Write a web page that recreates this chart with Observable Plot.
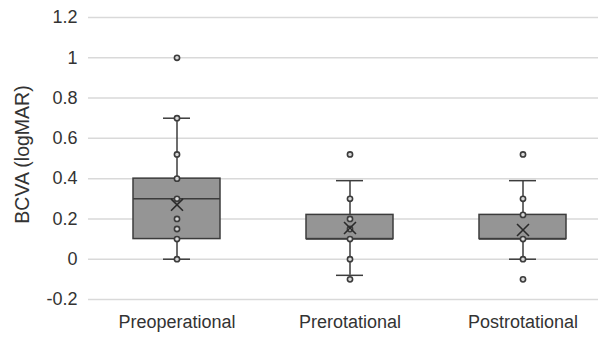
<!DOCTYPE html>
<html>
<head>
<meta charset="utf-8">
<script src="https://cdn.jsdelivr.net/npm/d3@7"></script>
<script src="https://cdn.jsdelivr.net/npm/@observablehq/plot@0.6"></script>
<style>
  html, body { margin: 0; padding: 0; background: #fff; }
  #chart { width: 609px; height: 337px; }
</style>
</head>
<body>
<div id="chart"></div>
<script>
const categories = ["Preoperational", "Prerotational", "Postrotational"];
const q1 = [0.1, 0.1, 0.1];
const median = [0.3, 0.1, 0.1];
const q3 = [0.4, 0.22, 0.22];
const whiskerLow = [0, -0.08, 0];
const whiskerHigh = [0.7, 0.39, 0.39];
const mean = [0.27, 0.155, 0.145];
const preoperationalPoints = [1.0, 0.7, 0.52, 0.4, 0.3, 0.2, 0.15, 0.1, 0];
const prerotationalPoints = [0.52, 0.3, 0.2, 0.15, 0.1, 0, -0.1];
const postrotationalPoints = [0.52, 0.3, 0.22, 0.1, 0, -0.1];
const yTicks = [-0.2, 0, 0.2, 0.4, 0.6, 0.8, 1.0, 1.2];

const stats = categories.map((c, i) => ({
  cat: c, q1: q1[i], median: median[i], q3: q3[i],
  lo: whiskerLow[i], hi: whiskerHigh[i], mean: mean[i]
}));
const pointSets = [preoperationalPoints, prerotationalPoints, postrotationalPoints];
const points = pointSets.flatMap((arr, i) => arr.map(v => ({cat: categories[i], v})));

const dark = "#3c3c3c";
const chart = Plot.plot({
  width: 609,
  height: 337,
  marginTop: 17,
  marginBottom: 38,
  marginLeft: 88,
  marginRight: 11,
  style: {fontFamily: "Liberation Sans, Arial, sans-serif", fontSize: "18px", color: "#333", background: "#fff"},
  x: {domain: categories, range: [89, 609], paddingInner: 0.5, paddingOuter: 0.25, align: 0.5, label: null},
  y: {domain: [-0.2, 1.2], label: null},
  marks: [
    Plot.ruleY(yTicks, {stroke: "#d9d9d9", strokeWidth: 1.5}),
    Plot.axisY({ticks: yTicks, tickSize: 0, tickPadding: 11, tickFormat: d => `${+d.toFixed(1)}`, fontSize: 18, fill: "#333", label: null}),
    Plot.axisX({tickSize: 0, tickPadding: 16, fontSize: 18, fill: "#333", label: null}),
    Plot.text(["BCVA (logMAR)"], {frameAnchor: "left", textAnchor: "middle", dx: -66, dy: -4, rotate: -90, fontSize: 19.5, fill: "#333"}),
    Plot.ruleX(stats, {x: "cat", y1: "lo", y2: "hi", stroke: dark, strokeWidth: 1.5}),
    Plot.tickY(stats, {x: "cat", y: "lo", stroke: dark, strokeWidth: 1.5, insetLeft: 30, insetRight: 30}),
    Plot.tickY(stats, {x: "cat", y: "hi", stroke: dark, strokeWidth: 1.5, insetLeft: 30, insetRight: 30}),
    Plot.barY(stats, {x: "cat", y1: "q1", y2: "q3", fill: "#959595", stroke: dark, strokeWidth: 1.5}),
    Plot.tickY(stats, {x: "cat", y: "median", stroke: dark, strokeWidth: 1.5}),
    Plot.dot(points, {x: "cat", y: "v", r: 2.6, fill: "#d8d8d8", stroke: dark, strokeWidth: 1.6}),
    Plot.dot(stats, {x: "cat", y: "mean", symbol: "times", r: 5.5, stroke: "#2a2a2a", strokeWidth: 1.6})
  ]
});
document.getElementById("chart").appendChild(chart);
</script>
</body>
</html>
